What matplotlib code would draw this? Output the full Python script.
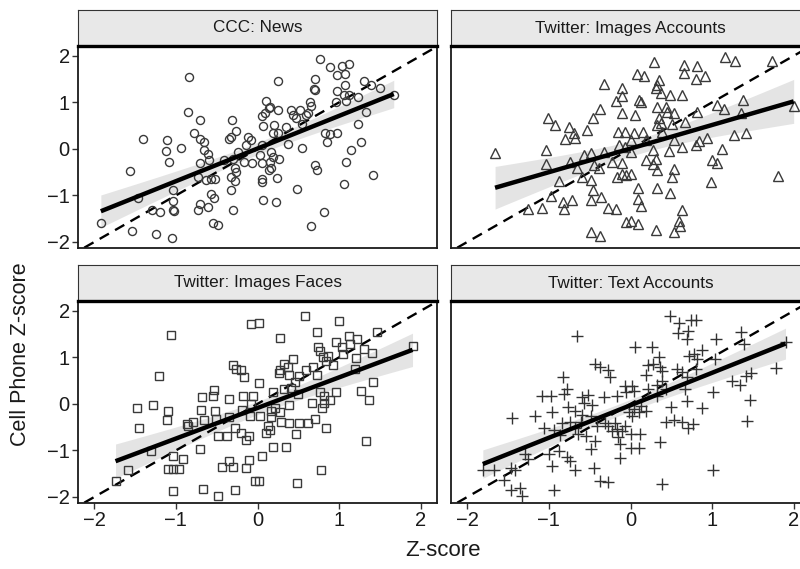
import numpy as np
import matplotlib
matplotlib.use("Agg")
import matplotlib.pyplot as plt

plt.rcParams['font.family'] = ['Liberation Sans', 'DejaVu Sans']

# ---- data (Z-scores) ----
ccc_x = [-0.84, -0.85, -0.70, -0.31, -1.40, -1.11, -0.78, -0.71, -0.65, -0.35,
         -0.26, -0.32, -1.12, -0.94, -0.65, -0.61, -1.09, -0.71, -0.60, -1.56,
         -0.12, -0.08, -0.14, -0.24, -0.30, -0.41, -0.16, -0.07, -0.28, -0.26,
         -0.33, -0.27, -0.73, -0.63, -0.57, -0.52, -0.32, -1.46, -1.04, -0.57,
         -0.53, -1.03, -0.71, -0.61, -1.29, -1.20, -1.03, -1.02, -0.73, -0.30,
         -1.92, -1.54, -1.24, -1.05, -0.55, -0.49,
         0.77, 0.89, 1.03, 1.12, 0.98, 1.07, 0.25, 0.70, 0.69, 0.70,
         1.07, 1.30, 1.39, 1.50, 0.98, 1.06, 1.12, 1.23, 0.96, 1.09,
         0.64, 0.65, 0.10, 0.15, 0.14, 0.25, 0.09, 0.05, 0.41, 0.52,
         0.44, 0.47, 0.62, 0.60, 0.55, 0.07, 0.20, 0.19, 0.35, 0.25,
         1.33, 1.23, 0.83, 0.89, 0.98, 0.85, 1.27, 0.05, 0.37, 0.54,
         1.15, 0.17, 0.19, 0.03, 0.26, 0.15, 0.05, 0.17, 0.14, 0.71,
         0.73, 1.09, 1.42, 0.06, 0.06, 0.24, 0.49, 1.06, 0.07, 0.23,
         0.82, 0.66, 1.67]
ccc_y = [1.54, 0.79, 0.63, 0.62, 0.21, 0.19, 0.34, 0.21, 0.14, 0.21,
         0.39, 0.25, -0.04, 0.03, -0.03, -0.10, -0.28, -0.30, -0.23, -0.47,
         0.26, 0.19, 0.08, -0.06, -0.21, -0.24, -0.28, -0.30, -0.42, -0.49,
         -0.60, -0.69, -0.60, -0.67, -0.64, -0.64, -0.88, -1.05, -0.89, -0.96,
         -1.05, -1.12, -1.18, -1.25, -1.31, -1.36, -1.31, -1.34, -1.32, -1.32,
         -1.59, -1.77, -1.82, -1.91, -1.60, -1.63,
         1.94, 1.75, 1.79, 1.83, 1.58, 1.60, 1.47, 1.51, 1.29, 1.27,
         1.38, 1.45, 1.37, 1.30, 1.24, 1.15, 1.15, 1.11, 1.00, 1.03,
         1.01, 0.93, 1.03, 0.90, 0.88, 0.84, 0.77, 0.70, 0.84, 0.84,
         0.73, 0.66, 0.77, 0.73, 0.53, 0.50, 0.52, 0.35, 0.46, 0.34,
         0.80, 0.54, 0.34, 0.32, 0.35, 0.14, 0.15, 0.08, 0.10, 0.03,
         -0.03, -0.06, -0.17, -0.13, -0.21, -0.28, -0.31, -0.40, -0.46, -0.34,
         -0.46, -0.29, -0.57, -0.64, -0.71, -0.62, -0.87, -0.75, -1.09, -1.14,
         -1.36, -1.66, 1.15]

img_acc_x = [-1.66, -1.04, -1.03, -1.01, -0.92, -0.75, -0.80, -0.69, -0.68, -0.53,
             -0.46, -0.37, -0.33, -0.11, -0.11, -0.18, -0.11, -0.57, -0.48, -0.32,
             -0.74, -0.66, -0.38, -0.45, -0.23, -0.88, -0.59, -0.49, -0.98, -0.46,
             -0.48, -0.36, -0.83, -0.72, -0.81, -1.26, -1.09, -0.28, -0.18, -0.49,
             -0.37, -0.15, -0.07, -0.14, -0.07, -0.11, -0.17, -0.11, -0.06, -0.05,
             0.29, 0.66, 0.81, 1.16, 1.28, 1.74, 0.08, 0.17, 0.65, 0.80,
             0.91, 0.35, 0.33, 0.31, 0.37, 0.48, 0.63, 0.11, 0.13, 0.32,
             0.44, 0.45, 0.53, 1.06, 1.15, 1.38, 0.82, 1.35, 0.06, 0.35,
             0.37, 0.33, 0.51, 0.67, 2.00, 0.04, 0.15, 0.39, 0.00, 0.19,
             0.53, 0.63, 0.84, 0.94, 0.80, 1.27, 1.42, 1.12, 0.27, 0.47,
             0.00, 0.19, 0.31, 0.27, 0.33, 1.00, 1.06, 0.53, 0.51, 0.00,
             1.81, 0.99, 0.09, 0.32, 0.48, 0.09, 0.13, 0.63, 0.59, 0.61,
             0.53, 0.31, 0.00, 0.09]
img_acc_y = [-0.08, -0.03, -0.33, 0.66, 0.52, 0.48, 0.21, 0.34, 0.23, 0.41,
             0.66, 0.85, 1.39, 1.31, 1.13, 1.02, 0.77, -0.13, -0.08, -0.06,
             -0.28, -0.40, -0.42, -0.35, -0.28, -0.69, -0.60, -0.67, -1.02, -0.89,
             -1.09, -1.03, -1.14, -1.09, -1.29, -1.29, -1.27, -1.27, -1.29, -1.79,
             -1.88, 0.36, 0.37, 0.08, 0.05, -0.30, -0.60, -0.53, -0.57, -1.57,
             1.86, 1.81, 1.78, 1.98, 1.88, 1.88, 1.60, 1.57, 1.63, 1.50,
             1.56, 1.49, 1.38, 1.31, 1.20, 1.16, 1.16, 1.06, 1.00, 0.91,
             0.90, 0.80, 0.77, 0.95, 0.85, 1.06, 0.79, 0.77, 0.73, 0.66,
             0.55, 0.52, 0.53, 0.57, 0.93, 0.34, 0.37, 0.37, 0.19, 0.19,
             0.19, 0.05, 0.18, 0.23, 0.08, 0.30, 0.34, 0.00, -0.03, -0.04,
             -0.06, -0.24, -0.21, -0.33, -0.46, -0.24, -0.31, -0.44, -0.60, -0.53,
             -0.58, -0.72, -0.83, -0.85, -0.94, -1.07, -1.23, -1.32, -1.54, -1.65,
             -1.79, -1.75, -1.54, -1.61]

img_face_x = [-1.06, -1.21, -1.48, -1.28, -1.10, -1.11, -1.45, -0.08, -0.30, -0.26,
              -0.20, -0.16, -0.53, -0.54, -0.68, -0.35, -0.18, -0.06, -0.69, -0.52,
              -0.79, -0.87, -0.85, -0.66, -0.51, -0.35, -0.19, -0.08, -0.09, -0.28,
              -0.20, -0.48, -0.37, -0.10, -0.14, -0.71, -1.31, -1.04, -0.91, -0.35,
              -0.11, -1.10, -1.04, -0.96, -0.43, -0.30, -0.14, -1.59, -1.74, -1.04,
              -0.67, -0.48, -0.28, -0.03,
              0.02, 0.58, 1.00, 0.28, 0.73, 1.12, 1.22, 1.47, 0.96, 0.74,
              0.76, 0.80, 0.84, 0.87, 1.04, 1.13, 1.30, 1.40, 1.05, 1.21,
              0.92, 1.90, 0.44, 0.32, 0.37, 0.27, 0.26, 0.39, 0.51, 0.60,
              0.68, 0.73, 1.20, 0.02, 1.41, 0.46, 0.41, 0.32, 0.19, 0.50,
              0.77, 0.96, 0.82, 0.89, 0.82, 0.79, 0.67, 0.39, 1.27, 1.37,
              0.03, 0.16, 0.21, 0.27, 0.17, 0.29, 0.39, 0.51, 0.62, 0.70,
              0.13, 0.15, 0.10, 0.47, 0.84, 1.33, 0.19, 0.35, 0.05, 0.78,
              0.02, 0.48]
img_face_y = [1.48, 0.59, -0.09, -0.02, -0.16, -0.35, -0.52, 1.71, 0.83, 0.75,
              0.72, 0.57, 0.29, 0.16, 0.14, 0.11, 0.18, 0.16, -0.13, -0.16,
              -0.38, -0.44, -0.47, -0.35, -0.33, -0.29, -0.13, 0.00, -0.26, -0.51,
              -0.62, -0.69, -0.69, -0.69, -0.78, -0.98, -1.01, -1.12, -1.18, -1.23,
              -1.21, -1.39, -1.39, -1.39, -1.36, -1.36, -1.37, -1.41, -1.65, -1.88,
              -1.83, -1.97, -1.86, -1.65,
              1.73, 1.89, 1.78, 1.42, 1.54, 1.47, 1.40, 1.55, 1.34, 1.22,
              1.13, 1.01, 0.93, 1.03, 1.22, 1.29, 1.19, 1.09, 1.08, 0.99,
              0.83, 1.24, 0.97, 0.86, 0.79, 0.72, 0.66, 0.63, 0.59, 0.72,
              0.79, 0.63, 0.75, 0.44, 0.48, 0.47, 0.34, 0.32, 0.25, 0.21,
              0.26, 0.25, 0.16, 0.08, 0.01, -0.08, 0.03, -0.02, 0.27, 0.09,
              -0.26, -0.15, -0.08, -0.18, -0.28, -0.38, -0.41, -0.40, -0.40, -0.33,
              -0.47, -0.57, -0.62, -0.65, -0.51, -0.80, -0.93, -0.93, -1.12, -1.41,
              -1.66, -1.71]

txt_acc_x = [-0.65, -0.44, -0.37, -0.27, -0.25, -0.83, -0.78, -0.82, -1.08, -0.98,
             -0.59, -0.52, -0.33, -0.16, -0.07, -0.05, -0.57, -0.47, -0.76, -0.68,
             -0.96, -1.45, -1.17, -0.59, -0.49, -0.84, -0.74, -1.06, -0.94, -0.68,
             -0.61, -0.41, -0.31, -0.27, -0.19, -0.17, -0.11, -0.07, -0.23, -0.86,
             -0.64, -0.55, -0.43, -0.15, -0.13, -0.49, -1.29, -1.26, -1.00, -0.88,
             -0.78, -0.74, -0.96, -0.68, -0.45, -0.13, -1.81, -1.67, -1.46, -1.41,
             -1.55, -1.47, -1.35, -1.33, -0.94, -0.37, -0.28,
             0.48, 0.59, 0.74, 0.80, 0.58, 0.70, 0.69, 1.35, 1.05, 1.39,
             0.06, 0.26, 0.35, 0.27, 0.22, 0.36, 0.39, 0.19, 0.57, 0.72,
             0.78, 0.88, 0.82, 1.04, 1.78, 1.48, 1.41, 1.24, 1.34, 0.69,
             0.63, 0.80, 0.33, 0.39, 0.43, 0.02, 0.04, 0.21, 0.67, 1.01,
             0.33, 0.69, 1.47, -0.02, 0.04, 0.13, 0.19, 0.02, 0.11, 0.50,
             0.88, 0.43, 0.53, 0.63, 0.70, 0.77, 1.43, 0.00, 0.12, 0.00,
             0.11, 0.36, 1.01, 0.39, 1.90]
txt_acc_y = [1.47, 0.86, 0.80, 0.72, 0.57, 0.57, 0.32, 0.21, 0.16, 0.16,
             0.14, 0.20, 0.14, 0.18, 0.39, 0.25, 0.03, -0.02, -0.06, -0.15,
             -0.18, -0.31, -0.26, -0.23, -0.26, -0.42, -0.38, -0.52, -0.57, -0.51,
             -0.38, -0.47, -0.40, -0.47, -0.40, -0.54, -0.58, -0.47, -0.58, -0.67,
             -0.64, -0.69, -0.80, -0.72, -0.87, -0.98, -1.08, -1.19, -1.08, -1.01,
             -1.14, -1.23, -1.34, -1.41, -1.37, -1.16, -1.41, -1.41, -1.37, -1.42,
             -1.63, -1.84, -1.81, -1.99, -1.86, -1.65, -1.68,
             1.89, 1.73, 1.80, 1.80, 1.52, 1.57, 1.40, 1.55, 1.40, 1.29,
             1.22, 1.22, 1.01, 0.86, 0.83, 0.79, 0.70, 0.62, 0.75, 1.04,
             1.08, 1.16, 0.97, 0.97, 0.78, 0.66, 0.61, 0.49, 0.41, 0.57,
             0.68, 0.75, 0.41, 0.50, 0.32, 0.39, 0.28, 0.32, 0.32, 0.25,
             0.16, 0.07, 0.09, -0.18, -0.11, -0.04, -0.15, -0.26, -0.18, -0.06,
             -0.09, -0.38, -0.35, -0.38, -0.51, -0.44, -0.36, -0.65, -0.65, -0.94,
             -0.94, -0.81, -1.41, -1.72, 1.33]

panel_titles = ['CCC: News', 'Twitter: Images Accounts',
                'Twitter: Images Faces', 'Twitter: Text Accounts']
ticks = [-2, -1, 0, 1, 2]

panels = [
    (ccc_x, ccc_y, 'o', 5.8),
    (img_acc_x, img_acc_y, '^', 7.0),
    (img_face_x, img_face_y, 's', 5.2),
    (txt_acc_x, txt_acc_y, '+', 8.5),
]

W, H = 800, 569
fig = plt.figure(figsize=(W / 100, H / 100), dpi=100)

# pixel boxes (left, top, width, height) of plot areas
boxes = [(78, 47, 359, 201), (451, 47, 359, 201),
         (78, 302, 359, 201), (451, 302, 359, 201)]
strip_h = 37


def fig_rect(l, t, w, h):
    return [l / W, 1 - (t + h) / H, w / W, h / H]


def lm_band(x, y, grid):
    x = np.asarray(x); y = np.asarray(y)
    n = len(x)
    b, a = np.polyfit(x, y, 1)
    resid = y - (a + b * x)
    s = np.sqrt(np.sum(resid ** 2) / (n - 2))
    sxx = np.sum((x - x.mean()) ** 2)
    se = s * np.sqrt(1.0 / n + (grid - x.mean()) ** 2 / sxx)
    fit = a + b * grid
    return fit, fit - 1.98 * se, fit + 1.98 * se


for i, (box, (xs, ys, mk, ms)) in enumerate(zip(boxes, panels)):
    l, t, w, h = box
    ax = fig.add_axes(fig_rect(l, t, w, h))
    ax.set_xlim(-2.2, 2.2)
    ax.set_ylim(-2.13, 2.19)

    lim = np.array([-2.5, 2.5])
    ax.plot(lim, lim, color='black', lw=1.7, ls=(0, (4.5, 3)), zorder=2)

    grid = np.linspace(min(xs), max(xs), 100)
    fit, lo, hi = lm_band(xs, ys, grid)
    ax.fill_between(grid, lo, hi, color='#c4c4c4', alpha=0.45, lw=0, zorder=1)

    if mk == '+':
        ax.plot(xs, ys, ls='none', marker=mk, ms=ms, mew=1.0,
                color='#333333', zorder=3)
    else:
        ax.plot(xs, ys, ls='none', marker=mk, ms=ms, mew=1.0,
                mfc='none', mec='#3a3a3a', zorder=3)
    ax.plot(grid, fit, color='black', lw=3.2, zorder=4, solid_capstyle='butt')

    for sp in ax.spines.values():
        sp.set_color('#1a1a1a')
        sp.set_linewidth(1.3)

    ax.set_xticks(ticks)
    ax.set_yticks(ticks)
    ax.tick_params(length=4, width=1.0, color='#333333', labelsize=14.5,
                   labelcolor='#1a1a1a', pad=2)
    if i % 2 == 1:
        ax.tick_params(axis='y', left=False, labelleft=False)
    if i < 2:
        ax.tick_params(axis='x', bottom=False, labelbottom=False)

    # facet strip
    sax = fig.add_axes(fig_rect(l, t - strip_h, w, strip_h - 1))
    sax.set_facecolor('#e8e8e8')
    sax.set_xticks([]); sax.set_yticks([])
    for sp in sax.spines.values():
        sp.set_color('#333333')
        sp.set_linewidth(0.8)
    sax.spines['bottom'].set_color('black')
    sax.spines['bottom'].set_linewidth(2.4)
    sax.text(0.5, 0.5, panel_titles[i], ha='center', va='center',
             fontsize=12.3, color='#1a1a1a', transform=sax.transAxes)

fig.text(443 / W, 1 - 550 / H, 'Z-score', ha='center', va='center',
         fontsize=16, color='#1a1a1a')
fig.text(21 / W, 1 - 354 / H, 'Cell Phone Z-score', ha='center', va='center',
         rotation=90, fontsize=15.5, color='#1a1a1a')

fig.savefig('out.png', dpi=100)
